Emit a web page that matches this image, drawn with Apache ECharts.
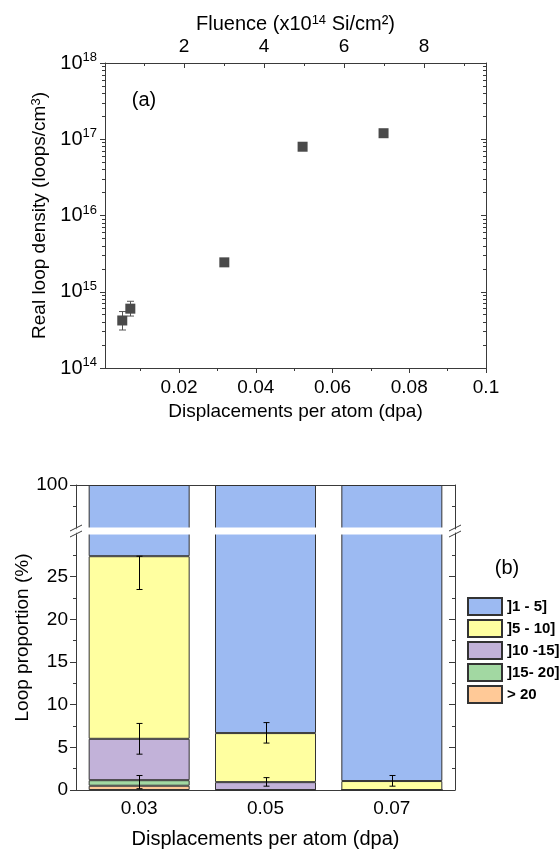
<!DOCTYPE html>
<html>
<head>
<meta charset="utf-8">
<script src="https://cdn.jsdelivr.net/npm/echarts@6/dist/echarts.min.js"></script>
<style>
  html, body { margin: 0; padding: 0; background: #fff; }
  #chart { width: 559px; height: 850px; }
</style>
</head>
<body>
<div id="chart"></div>
<script>
// ---- (a) real loop density versus dose ----
const dpaValues = [0.0052, 0.0073, 0.0318, 0.0522, 0.0733];
const loopDensity = [4.2e14, 6.0e14, 2.43e15, 7.98e16, 1.2e17];
const loopDensityLow = [3.15e14, 4.8e14, 2.2e15, 7.3e16, 1.09e17];
const loopDensityHigh = [5.5e14, 7.5e14, 2.65e15, 8.7e16, 1.31e17];
const dpaTicks = [0.02, 0.04, 0.06, 0.08, 0.1];
const dpaMinorTicks = [0.01, 0.03, 0.05, 0.07, 0.09];
const fluenceTicks = [2, 4, 6, 8];
const fluenceMinorTicks = [1, 3, 5, 7, 9];

// ---- (b) loop size distribution per dose ----
const doseBins = ['0.03', '0.05', '0.07'];
const sizeClasses = [']1 - 5]', ']5 - 10]', ']10 -15]', ']15- 20]', '> 20'];
const share1to5 = [72.6, 93.33, 98.95];
const share5to10 = [21.4, 5.75, 1.05];
const share10to15 = [4.85, 0.92, 0];
const share15to20 = [0.65, 0, 0];
const shareOver20 = [0.5, 0, 0];
const errDose = ['0.03', '0.03', '0.03', '0.05', '0.05', '0.07'];
const errLow = [23.5, 4.2, 0.15, 5.5, 0.45, 0.45];
const errHigh = [27.4, 7.8, 1.7, 7.9, 1.45, 1.7];
const proportionTicks = [0, 5, 10, 15, 20, 25];
const proportionMinorTicks = [2.5, 7.5, 12.5, 17.5, 22.5, 27.5];
const proportionTopTicks = [100];
const proportionTopMinorTicks = [97.5];

const FONT = '"Liberation Sans", Arial, Helvetica, sans-serif';
const AXIS = '#3a3a3a';
const classColors = ['#9cbaf2', '#ffffa0', '#c2b2d9', '#a2d8a2', '#ffc997'];

// log minor ticks (2..9 within each decade)
const densityMinorTicks = [];
for (let d = 14; d < 18; d++) {
  for (let m = 2; m <= 9; m++) densityMinorTicks.push(m * Math.pow(10, d));
}

const labelStyle = { color: '#000', fontFamily: FONT, fontSize: 19 };
const lineStyle = { color: AXIS, width: 1 };

function errorBars(capHalf, color) {
  return function (params, api) {
    const x = api.value(0);
    const lo = api.coord([x, api.value(1)]);
    const hi = api.coord([x, api.value(2)]);
    const style = { stroke: color, lineWidth: 1, fill: null };
    const cx = Math.round(lo[0]) + 0.5;
    return {
      type: 'group',
      children: [
        { type: 'line', shape: { x1: cx, y1: lo[1], x2: cx, y2: hi[1] }, style },
        { type: 'line', shape: { x1: cx - capHalf, y1: lo[1], x2: cx + capHalf, y2: lo[1] }, style },
        { type: 'line', shape: { x1: cx - capHalf, y1: hi[1], x2: cx + capHalf, y2: hi[1] }, style }
      ]
    };
  };
}

// an axis that only contributes tick marks at the given values
function tickAxis(base, values, length, inside) {
  return Object.assign({
    axisLine: { show: false },
    axisTick: { show: true, length, inside: !!inside, customValues: values, lineStyle },
    axisLabel: { show: false },
    splitLine: { show: false }
  }, base);
}

// stacked from the bottom: > 20 first, ]1 - 5] last
const classSeries = [shareOver20, share15to20, share10to15, share5to10, share1to5];
const classNames = [sizeClasses[4], sizeClasses[3], sizeClasses[2], sizeClasses[1], sizeClasses[0]];
const classFill = [classColors[4], classColors[3], classColors[2], classColors[1], classColors[0]];

function barStack(xIdx, yIdx, stackName) {
  return classSeries.map((arr, k) => ({
    type: 'bar',
    name: classNames[k],
    xAxisIndex: xIdx,
    yAxisIndex: yIdx,
    stack: stackName,
    barWidth: 101,
    clip: true,
    data: arr.slice(),
    itemStyle: { color: classFill[k], borderColor: '#333', borderWidth: 1 },
    emphasis: { disabled: true },
    z: 2
  }));
}

const supRich = {
  sup: { fontSize: 13, fontFamily: FONT, color: '#000', verticalAlign: 'top', lineHeight: 12 }
};

// broken proportion axis: lower part 0..LOW_MAX, upper part TOP_MIN..100
const LOW_MAX = 30.12;
const TOP_MIN = 94.87;

const option = {
  animation: false,
  backgroundColor: '#fff',
  grid: [
    { left: 105, top: 63, width: 381, height: 305 },
    { left: 76, top: 485, width: 379, height: 44 },
    { left: 76, top: 533, width: 379, height: 258 }
  ],
  legend: {
    data: sizeClasses,
    orient: 'vertical',
    left: 462,
    top: 592,
    itemWidth: 34,
    itemHeight: 17,
    itemGap: 3,
    icon: 'rect',
    selectedMode: false,
    textStyle: { color: '#000', fontFamily: FONT, fontSize: 15, fontWeight: 'bold' }
  },
  xAxis: [
    // 0: dose axis of (a)
    {
      type: 'value', gridIndex: 0, position: 'bottom', min: 0.0007, max: 0.1,
      axisLine: { show: true, onZero: false, lineStyle },
      axisTick: { show: true, length: 5, customValues: dpaTicks, lineStyle },
      axisLabel: { customValues: dpaTicks, formatter: v => String(v), margin: 10, ...labelStyle },
      splitLine: { show: false },
      name: 'Displacements per atom (dpa)', nameLocation: 'middle', nameGap: 34,
      nameTextStyle: { ...labelStyle }
    },
    // 1: dose minor ticks
    tickAxis({ type: 'value', gridIndex: 0, position: 'bottom', min: 0.0007, max: 0.1 }, dpaMinorTicks, 3, false),
    // 2: fluence axis on top of (a)
    {
      type: 'value', gridIndex: 0, position: 'top', min: 0.026, max: 9.55,
      axisLine: { show: true, onZero: false, lineStyle },
      axisTick: { show: true, length: 5, inside: true, customValues: fluenceTicks, lineStyle },
      axisLabel: { customValues: fluenceTicks, margin: 7, ...labelStyle },
      splitLine: { show: false },
      name: 'Fluence (x10{sup|14} Si/cm²)', nameLocation: 'middle', nameGap: 29,
      nameTextStyle: { ...labelStyle, fontSize: 20, rich: supRich }
    },
    // 3: fluence minor ticks
    tickAxis({ type: 'value', gridIndex: 0, position: 'top', min: 0.026, max: 9.55 }, fluenceMinorTicks, 3, true),
    // 4: top frame of (b), upper part
    {
      type: 'category', gridIndex: 1, position: 'top', data: doseBins,
      axisLine: { show: true, onZero: false, lineStyle },
      axisTick: { show: false }, axisLabel: { show: false }, splitLine: { show: false }
    },
    // 5: dose axis of (b)
    {
      type: 'category', gridIndex: 2, position: 'bottom', data: doseBins,
      axisLine: { show: true, onZero: false, lineStyle },
      axisTick: { show: false },
      axisLabel: { margin: 9, ...labelStyle },
      splitLine: { show: false },
      name: 'Displacements per atom (dpa)', nameLocation: 'middle', nameGap: 39,
      nameTextStyle: { ...labelStyle, fontSize: 20 }
    }
  ],
  yAxis: [
    // 0: density axis of (a)
    {
      type: 'log', logBase: 10, gridIndex: 0, position: 'left', min: 1e14, max: 1e18,
      axisLine: { show: true, onZero: false, lineStyle },
      axisTick: { show: true, length: 5, lineStyle },
      axisLabel: {
        showMaxLabel: true, showMinLabel: true,
        formatter: v => '10{sup|' + Math.round(Math.log10(v)) + '}',
        margin: 8, ...labelStyle, fontSize: 20, lineHeight: 24, rich: supRich
      },
      splitLine: { show: false },
      name: 'Real loop density (loops/cm{sup|3})', nameLocation: 'middle', nameGap: 43,
      nameTextStyle: { ...labelStyle, rich: supRich }
    },
    tickAxis({ type: 'log', logBase: 10, gridIndex: 0, position: 'left', min: 1e14, max: 1e18 }, densityMinorTicks, 3, false),
    {
      type: 'log', logBase: 10, gridIndex: 0, position: 'right', min: 1e14, max: 1e18,
      axisLine: { show: true, onZero: false, lineStyle },
      axisTick: { show: true, length: 5, inside: true, lineStyle },
      axisLabel: { show: false }, splitLine: { show: false }
    },
    tickAxis({ type: 'log', logBase: 10, gridIndex: 0, position: 'right', min: 1e14, max: 1e18 }, densityMinorTicks, 3, true),
    // 4-7: upper segment of the broken proportion axis (left, left minor, right, right minor)
    {
      type: 'value', gridIndex: 1, position: 'left', min: TOP_MIN, max: 100,
      axisLine: { show: true, onZero: false, lineStyle },
      axisTick: { show: true, length: 6, customValues: proportionTopTicks, lineStyle },
      axisLabel: { customValues: proportionTopTicks, margin: 8, ...labelStyle },
      splitLine: { show: false }
    },
    tickAxis({ type: 'value', gridIndex: 1, position: 'left', min: TOP_MIN, max: 100 }, proportionTopMinorTicks, 3, false),
    {
      type: 'value', gridIndex: 1, position: 'right', min: TOP_MIN, max: 100,
      axisLine: { show: true, onZero: false, lineStyle },
      axisTick: { show: true, length: 6, inside: true, customValues: proportionTopTicks, lineStyle },
      axisLabel: { show: false }, splitLine: { show: false }
    },
    tickAxis({ type: 'value', gridIndex: 1, position: 'right', min: TOP_MIN, max: 100 }, proportionTopMinorTicks, 3, true),
    // 8-11: lower segment
    {
      type: 'value', gridIndex: 2, position: 'left', min: 0, max: LOW_MAX,
      axisLine: { show: true, onZero: false, lineStyle },
      axisTick: { show: true, length: 6, customValues: proportionTicks, lineStyle },
      axisLabel: { customValues: proportionTicks, margin: 8, ...labelStyle },
      splitLine: { show: false }
    },
    tickAxis({ type: 'value', gridIndex: 2, position: 'left', min: 0, max: LOW_MAX }, proportionMinorTicks, 3, false),
    {
      type: 'value', gridIndex: 2, position: 'right', min: 0, max: LOW_MAX,
      axisLine: { show: true, onZero: false, lineStyle },
      axisTick: { show: true, length: 6, inside: true, customValues: proportionTicks, lineStyle },
      axisLabel: { show: false }, splitLine: { show: false }
    },
    tickAxis({ type: 'value', gridIndex: 2, position: 'right', min: 0, max: LOW_MAX }, proportionMinorTicks, 3, true)
  ],
  series: [
    {
      type: 'custom', name: 'density error', xAxisIndex: 0, yAxisIndex: 0,
      renderItem: errorBars(3.5, '#555'),
      encode: { x: 0, y: [1, 2] },
      data: dpaValues.map((x, i) => [x, loopDensityLow[i], loopDensityHigh[i]]),
      silent: true, z: 2
    },
    {
      type: 'scatter', name: 'density', xAxisIndex: 0, yAxisIndex: 0,
      symbol: 'rect', symbolSize: 10,
      itemStyle: { color: '#4a4a4a', opacity: 1 },
      data: dpaValues.map((x, i) => [x, loopDensity[i]]),
      emphasis: { disabled: true }, z: 3
    },
    ...barStack(4, 4, 'upper'),
    ...barStack(5, 8, 'lower'),
    {
      type: 'custom', name: 'share error', xAxisIndex: 5, yAxisIndex: 8,
      renderItem: errorBars(3, '#000'),
      encode: { x: 0, y: [1, 2] },
      data: errDose.map((x, i) => [x, errLow[i], errHigh[i]]),
      silent: true, z: 5
    }
  ]
};

const chart = echarts.init(document.getElementById('chart'), null, { renderer: 'canvas' });
chart.setOption(option);

// panel letters, shared axis title and the break band of (b)
const gridRect = i => chart.getModel().getComponent('grid', i).coordinateSystem.getRect();
const g0 = gridRect(0), g1 = gridRect(1), g2 = gridRect(2);
const leftX = g2.x;
const rightX = g2.x + g2.width;
const gapTop = g1.y + g1.height;
const gapBottom = g2.y;

function breakMark(x) {
  const s = { stroke: AXIS, lineWidth: 1 };
  return [
    { type: 'line', shape: { x1: x - 6, y1: gapTop + 2, x2: x + 6, y2: gapTop - 4 }, style: s, z: 12 },
    { type: 'line', shape: { x1: x - 6, y1: gapBottom + 4, x2: x + 6, y2: gapBottom - 2 }, style: s, z: 12 }
  ];
}

chart.setOption({
  graphic: [
    // white band hiding the clipped bar outlines at the break
    { type: 'rect', shape: { x: leftX + 0.5, y: gapTop - 1.5, width: rightX - leftX - 1, height: gapBottom - gapTop + 3 },
      style: { fill: '#fff' }, z: 11 },
    { type: 'text', x: g0.x + 39, y: g0.y + 37,
      style: { text: '(a)', fontSize: 20, fontFamily: FONT, fill: '#000', align: 'center', verticalAlign: 'middle' } },
    { type: 'text', x: rightX + 52, y: 568,
      style: { text: '(b)', fontSize: 20, fontFamily: FONT, fill: '#000', align: 'center', verticalAlign: 'middle' } },
    { type: 'text', x: leftX - 53, y: (g1.y + g2.y + g2.height) / 2, rotation: Math.PI / 2,
      style: { text: 'Loop proportion (%)', fontSize: 19, fontFamily: FONT, fill: '#000', align: 'center', verticalAlign: 'middle' } },
    ...breakMark(leftX),
    ...breakMark(rightX)
  ]
});
</script>
</body>
</html>
